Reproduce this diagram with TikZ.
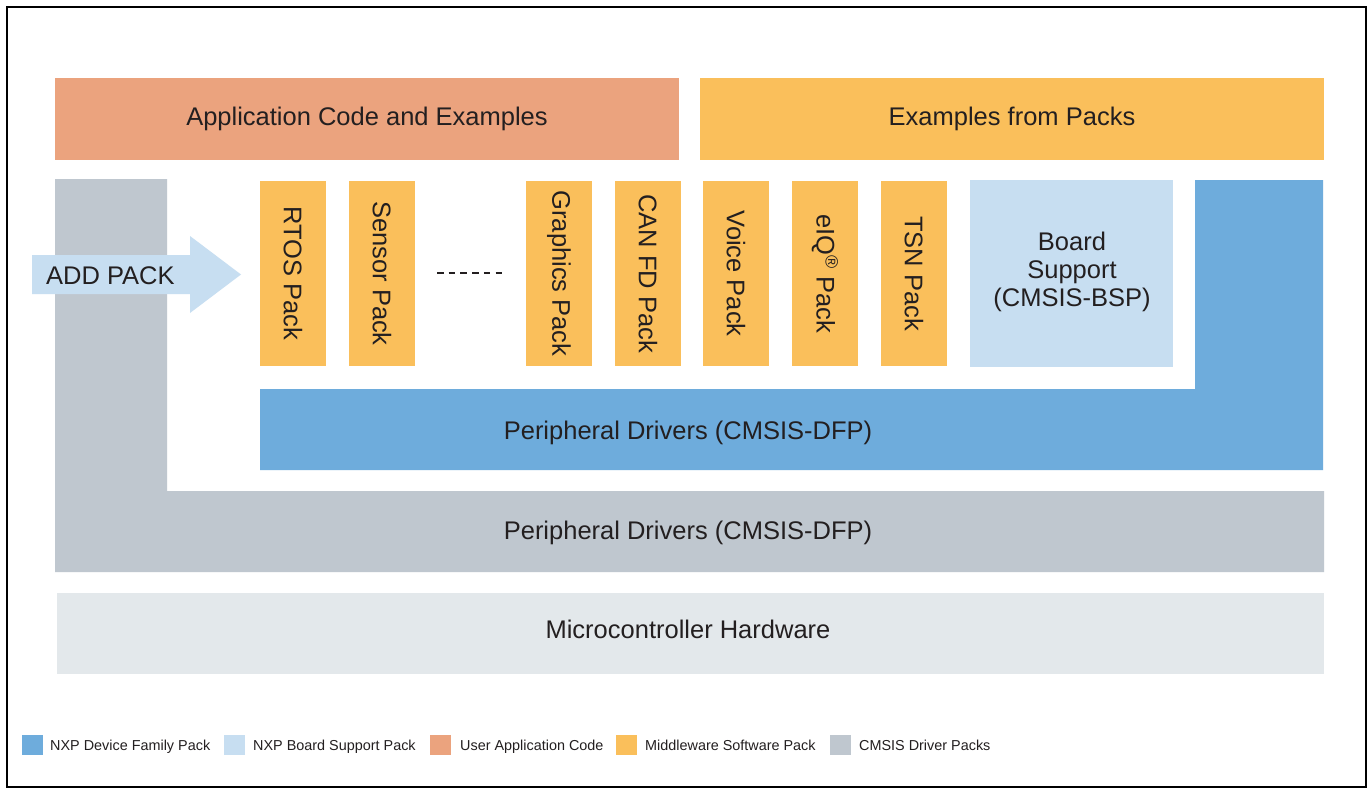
\documentclass[tikz,border=0pt]{standalone}
\usepackage{fontspec}
\setmainfont{Liberation Sans}
\definecolor{salmon}{HTML}{EBA37E}
\definecolor{mwor}{HTML}{FABF5B}
\definecolor{nxpblue}{HTML}{6EACDC}
\definecolor{bsplight}{HTML}{C7DEF1}
\definecolor{cmsisgray}{HTML}{BFC7CF}
\definecolor{hwgray}{HTML}{E3E8EB}
\definecolor{txt}{HTML}{231F20}
\newcommand\diagbig{\fontsize{25.5}{28}\selectfont}
\newcommand\diagsmall{\fontsize{14.4}{16}\selectfont}
\begin{document}
\begin{tikzpicture}[x=1pt,y=-1pt,
  block/.style={inner sep=0pt, outer sep=0pt, anchor=north west},
  packbox/.style={block, fill=mwor, minimum width=66pt, minimum height=185pt},
  vlabel/.style={rotate=-90, font=\diagbig, text=txt, inner sep=0pt},
  bigtext/.style={font=\diagbig, text=txt, inner sep=0pt, anchor=base},
  legsq/.style={fill=#1, inner sep=0pt, outer sep=0pt, anchor=north west, minimum width=21pt, minimum height=20pt},
  legtxt/.style={font=\diagsmall, text=txt, anchor=base west, inner sep=0pt}
]
\useasboundingbox (0,0) rectangle (1368,789);
\fill[white] (0,0) rectangle (1368,789);

% top row
\node[block, fill=salmon, minimum width=624pt, minimum height=82pt] (app) at (55,78) {};
\node[bigtext] (apptext) at (367,126) {Application Code and Examples};
\node[block, fill=mwor, minimum width=624pt, minimum height=82pt] (expk) at (700,78) {};
\node[bigtext] (expktext) at (1012,126) {Examples from Packs};

% CMSIS driver L shape
\fill[cmsisgray] (55,179) -- (167,179) -- (167,491) -- (1324,491) -- (1324,572) -- (55,572) -- cycle;
\node[bigtext] (cmsisdrv) at (688,539) {Peripheral Drivers (CMSIS-DFP)};

% NXP device family L shape
\fill[nxpblue] (1195,180) -- (1323,180) -- (1323,470) -- (260,470) -- (260,389) -- (1195,389) -- cycle;
\node[bigtext] (nxpdrv) at (688,439) {Peripheral Drivers (CMSIS-DFP)};

% packs
\node[packbox] (rtos) at (260,181) {};
\node[vlabel] at (rtos.center) {RTOS Pack};
\node[packbox] (sensor) at (349,181) {};
\node[vlabel] at (sensor.center) {Sensor Pack};
\node[packbox] (graphics) at (526,181) {};
\node[vlabel] at (graphics.center) {Graphics Pack};
\node[packbox] (canfd) at (615,181) {};
\node[vlabel] at (canfd.center) {CAN FD Pack};
\node[packbox] (voice) at (703,181) {};
\node[vlabel] at (voice.center) {Voice Pack};
\node[packbox] (eiq) at (792,181) {};
\node[vlabel] at (eiq.center) {eIQ\textsuperscript{®} Pack};
\node[packbox] (tsn) at (881,181) {};
\node[vlabel] at (tsn.center) {TSN Pack};

% board support
\node[block, fill=bsplight, minimum width=203pt, minimum height=187pt] (bsp) at (970,180) {};
\node[font=\diagbig, text=txt, inner sep=0pt, align=center] (bsptext) at (1072,272) {Board\\Support\\(CMSIS-BSP)};

% dashes
\draw[txt, line width=1.3pt, dash pattern=on 6.5pt off 5.2pt] (437,273) -- (502,273);

% add pack arrow
\fill[bsplight] (32,255) -- (190,255) -- (190,236) -- (241,274.5) -- (190,313) -- (190,294) -- (32,294) -- cycle;
\node[font=\diagbig, text=txt, inner sep=0pt, anchor=base west] (addpack) at (46,284) {ADD PACK};

% hardware
\node[block, fill=hwgray, minimum width=1267pt, minimum height=81pt] (hw) at (57,593) {};
\node[bigtext] (hwtext) at (688,638) {Microcontroller Hardware};

% legend
\node[legsq=nxpblue] (l1) at (22,735) {};
\node[legtxt] at (50,750) {NXP Device Family Pack};
\node[legsq=bsplight] (l2) at (224,735) {};
\node[legtxt] at (253,750) {NXP Board Support Pack};
\node[legsq=salmon] (l3) at (430,735) {};
\node[legtxt] at (460,750) {User Application Code};
\node[legsq=mwor] (l4) at (616,735) {};
\node[legtxt] at (645,750) {Middleware Software Pack};
\node[legsq=cmsisgray] (l5) at (830,735) {};
\node[legtxt] at (859,750) {CMSIS Driver Packs};

% frame
\draw[black, line width=2.5pt] (7,7) rectangle (1366,787);
\end{tikzpicture}
\end{document}
